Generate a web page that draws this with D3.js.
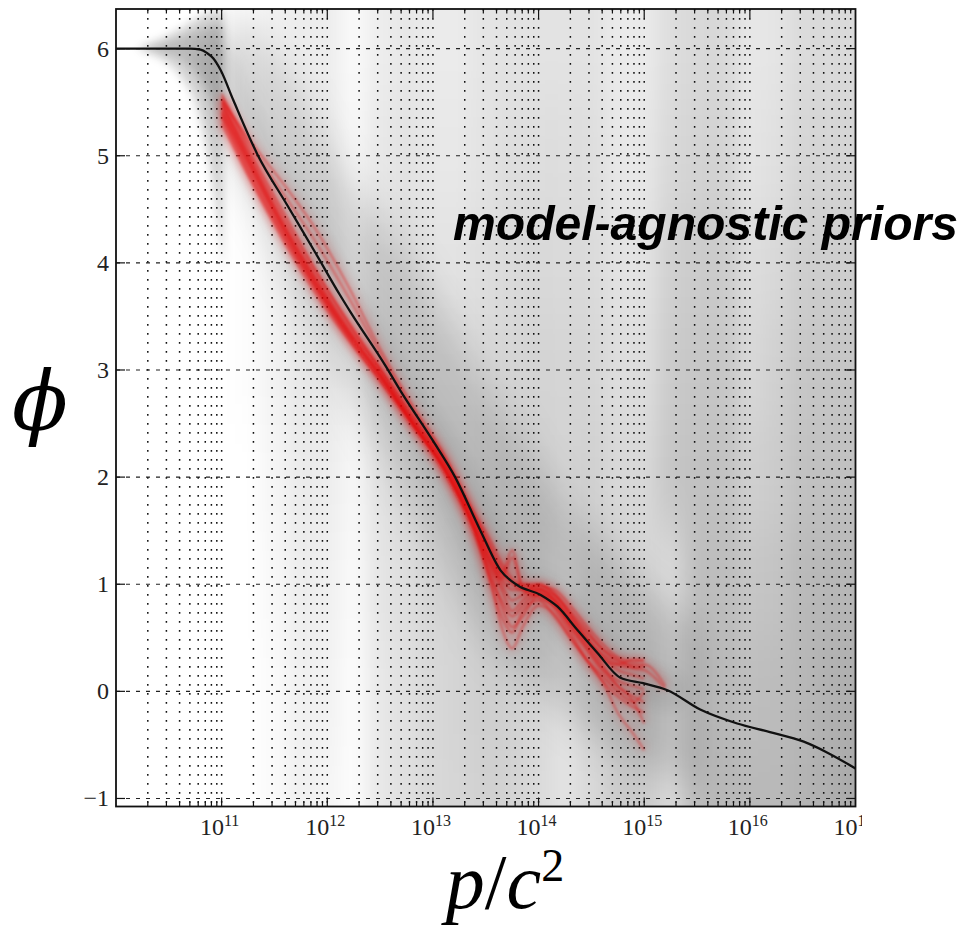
<!DOCTYPE html>
<html><head><meta charset="utf-8">
<script src="https://cdn.jsdelivr.net/npm/d3@7"></script>
<style>body{margin:0;background:#fff}svg{display:block}</style>
</head><body>
<svg id="chart" width="969" height="928"></svg>
<script>
// ---------------- data ----------------
const xMajorExp = [11, 12, 13, 14, 15, 16, 17];
const yTicks = [-1, 0, 1, 2, 3, 4, 5, 6];
const yTickLabels = ["\u22121", "0", "1", "2", "3", "4", "5", "6"];

// median (black) curve: log10(p/c^2), phi
const medianLogP = [10.0, 10.70, 10.80, 10.86, 10.92, 10.99, 11.11, 11.34, 11.62, 11.89, 12.12, 12.22, 12.55, 12.69, 13.0, 13.21, 13.45, 13.64, 13.80, 14.02, 14.18, 14.37, 14.56, 14.77, 14.99, 15.22, 15.53, 15.88, 16.19, 16.51, 16.73, 17.0];
const medianPhi  = [6.0, 6.0, 5.99, 5.96, 5.91, 5.80, 5.52, 5.01, 4.54, 4.09, 3.70, 3.54, 3.04, 2.81, 2.34, 2.0, 1.5, 1.13, 0.99, 0.90, 0.79, 0.57, 0.355, 0.13, 0.076, 0.01, -0.17, -0.30, -0.38, -0.47, -0.57, -0.72];

// red posterior samples on a common grid (null = not defined)
const redLogP = [11.0, 11.3, 11.6, 11.9, 12.2, 12.5, 12.8, 13.1, 13.4, 13.55, 13.65, 13.75, 13.85, 14.0, 14.15, 14.3, 14.45, 14.6, 14.75, 14.9, 15.0, 15.2];
const red1  = [5.45, 4.85, 4.30, 3.80, 3.35, 2.95, 2.52, 2.10, 1.55, 1.25, 1.05, 0.95, 0.95, 0.92, 0.85, 0.68, 0.50, 0.33, 0.20, 0.15, 0.12, null];
const red2  = [5.58, 4.98, 4.45, 3.92, 3.44, 3.00, 2.55, 2.15, 1.60, 1.30, 1.10, 1.32, 1.00, 1.00, 0.90, 0.72, 0.55, 0.40, 0.28, 0.25, 0.25, 0.05];
const red3  = [5.35, 4.75, 4.22, 3.74, 3.30, 2.90, 2.50, 2.05, 1.45, 1.00, 0.70, 0.55, 0.75, 0.85, 0.70, 0.50, 0.30, 0.10, -0.05, -0.15, -0.20, null];
const red4  = [5.55, 5.05, 4.62, 4.18, 3.68, 3.15, 2.64, 2.20, 1.65, 1.40, 1.20, 1.05, 1.00, 0.98, 0.95, 0.80, 0.62, 0.45, 0.32, 0.28, 0.30, null];
const red5  = [5.30, 4.72, 4.18, 3.70, 3.28, 2.90, 2.48, 2.08, 1.50, 1.15, 0.95, 0.75, 0.85, 0.95, 0.85, 0.60, 0.40, 0.20, 0.05, -0.10, -0.30, null];
const red6  = [5.50, 4.90, 4.35, 3.85, 3.40, 3.00, 2.56, 2.15, 1.58, 1.20, 1.05, 1.25, 0.95, 0.88, 0.80, 0.65, 0.45, 0.25, 0.05, -0.05, -0.10, null];
const red7  = [5.42, 4.86, 4.30, 3.80, 3.36, 2.96, 2.52, 2.10, 1.50, 1.10, 0.80, 0.60, 0.70, 0.90, 0.78, 0.55, 0.30, 0.10, -0.20, -0.40, -0.55, null];
const red8  = [5.52, 5.10, 4.72, 4.30, 3.78, 3.20, 2.68, 2.22, 1.60, 1.30, 1.10, 1.00, 0.95, 0.95, 0.90, 0.75, 0.58, 0.40, 0.30, 0.22, 0.20, 0.02];
const red9  = [5.40, 4.82, 4.27, 3.77, 3.33, 2.94, 2.50, 2.10, 1.52, 1.20, 1.00, 0.85, 0.90, 1.00, 0.92, 0.72, 0.50, 0.30, 0.25, 0.30, 0.28, null];
const red10 = [5.48, 4.90, 4.33, 3.83, 3.37, 2.96, 2.52, 2.10, 1.50, 1.00, 0.60, 0.40, 0.60, 0.80, 0.72, 0.50, 0.30, 0.15, 0.00, -0.10, 0.00, null];
const red11 = [5.38, 4.78, 4.24, 3.76, 3.32, 2.93, 2.51, 2.08, 1.48, 1.05, 0.85, 0.70, 0.80, 0.92, 0.82, 0.62, 0.42, 0.22, 0.10, 0.05, 0.02, null];
const red12 = [5.52, 4.94, 4.40, 3.90, 3.45, 3.02, 2.58, 2.16, 1.62, 1.35, 1.15, 1.02, 0.98, 0.96, 0.86, 0.66, 0.48, 0.35, 0.25, 0.22, 0.24, null];
const redCurves = [red1, red2, red3, red4, red5, red6, red7, red8, red9, red10, red11, red12];

// prior spread around the median (gray halo)
const bandLogP = [11.0, 11.3, 11.6, 12.0, 12.5, 13.0, 13.5, 14.0, 14.5, 15.0, 15.5];
const bandHi   = [6.30, 6.20, 5.80, 5.10, 4.40, 3.70, 2.90, 2.10, 1.50, 1.00, 0.60];
const bandLo   = [5.20, 4.60, 4.00, 3.20, 2.30, 1.40, 0.50, 0.00, -0.40, -0.70, -0.90];

// fan of the prior at low pressure
const fanLogP   = [10.2, 10.4, 10.6, 10.8, 10.95, 11.02];
const fanHi     = [6.00, 6.08, 6.18, 6.30, 6.35, 6.35];
const fanLo     = [6.00, 5.92, 5.75, 5.35, 4.50, 3.90];
const fanCoreHi = [6.00, 6.04, 6.10, 6.18, 6.22, 6.22];
const fanCoreLo = [6.00, 5.97, 5.90, 5.70, 5.40, 5.20];

// background prior density (darkness) on a coarse grid
const densityLogP = [10.0,10.25,10.5,10.75,11.0,11.25,11.5,11.75,12.0,12.25,12.5,12.75,13.0,13.25,13.5,13.75,14.0,14.25,14.5,14.75,15.0,15.25,15.5,15.75,16.0,16.25,16.5,16.75,17.0];
const densityPhi = [6, 5, 4, 3, 2, 1, 0, -1];
const densityRows = [
  [0,0,0,0,0,.02,.05,.07,.07,.02,.07,.09,.08,.08,.10,.11,.11,.11,.11,.08,.08,.13,.15,.15,.09,.10,.14,.14,.14],
  [0,0,0,0,0,.02,.05,.08,.08,.03,.09,.11,.09,.09,.11,.13,.13,.13,.13,.09,.09,.15,.17,.17,.10,.12,.16,.16,.16],
  [0,0,0,0,0,.01,.05,.09,.09,.04,.11,.13,.11,.11,.13,.14,.15,.14,.14,.11,.11,.18,.20,.20,.13,.15,.19,.19,.19],
  [0,0,0,0,0,.01,.05,.09,.09,.05,.11,.13,.13,.13,.15,.16,.17,.16,.16,.13,.13,.20,.22,.22,.15,.18,.22,.22,.22],
  [0,0,0,0,0,0,.04,.08,.07,.03,.11,.14,.15,.15,.17,.18,.18,.17,.18,.15,.15,.22,.24,.24,.18,.20,.24,.24,.24],
  [0,0,0,0,0,0,.03,.07,.06,.02,.10,.13,.16,.17,.19,.19,.17,.13,.18,.18,.16,.14,.25,.26,.22,.23,.27,.28,.28],
  [0,0,0,0,0,0,.02,.06,.05,.01,.09,.12,.15,.17,.19,.18,.15,.11,.16,.20,.20,.14,.26,.27,.25,.26,.28,.30,.31],
  [0,0,0,0,0,0,.02,.06,.04,.01,.09,.12,.15,.16,.18,.17,.14,.11,.15,.20,.20,.14,.26,.28,.27,.27,.29,.31,.33]
];

// ---------------- chart ----------------
const W = 969, H = 928;
const margin = {top: 9, right: 113.5, bottom: 121.5, left: 116};
const iw = W - margin.left - margin.right, ih = H - margin.top - margin.bottom;
const svg = d3.select("#chart");
const x = d3.scaleLog().domain([1e10, 1e17]).range([0, iw]);
const y = d3.scaleLinear().domain([-1.075, 6.37]).range([ih, 0]);
const X = lp => x(Math.pow(10, lp));

const defs = svg.append("defs");
defs.append("clipPath").attr("id", "plotClip").append("rect").attr("width", iw).attr("height", ih);
defs.append("clipPath").attr("id", "figClip").append("rect").attr("x", 0).attr("y", 0).attr("width", 862).attr("height", H);
function blur(id, sx, sy) {
  defs.append("filter").attr("id", id).attr("filterUnits", "userSpaceOnUse")
    .attr("x", -200).attr("y", -200).attr("width", W + 400).attr("height", H + 400)
    .append("feGaussianBlur").attr("stdDeviation", sx + " " + sy);
}
blur("bgBlur", 9, 30);
blur("bandBlur", 18, 18);
blur("fanBlur", 4, 4);
blur("haloBlur", 8, 8);
blur("redGlow", 4, 4);
blur("redSoft", 0.8, 0.8);

const g = svg.append("g").attr("transform", `translate(${margin.left},${margin.top})`);
const plot = g.append("g").attr("clip-path", "url(#plotClip)");

// background density cells
const bg = plot.append("g").attr("filter", "url(#bgBlur)");
const half = 0.125;
densityRows.forEach((row, r) => {
  const phi = densityPhi[r];
  row.forEach((v, c) => {
    const lp = densityLogP[c];
    const lpa = c === 0 ? lp - 1 : lp - half;
    const lpb = c === row.length - 1 ? lp + 1 : lp + half;
    const ya = r === 0 ? phi + 1.5 : phi + 0.5;
    const yb = r === densityRows.length - 1 ? phi - 1.5 : phi - 0.5;
    bg.append("rect")
      .attr("x", X(lpa)).attr("width", X(lpb) - X(lpa) + 0.5)
      .attr("y", y(ya)).attr("height", y(yb) - y(ya) + 0.5)
      .attr("fill", "#000").attr("fill-opacity", v);
  });
});

// prior halo band
const bandData = bandLogP.map((lp, i) => ({lp, hi: bandHi[i], lo: bandLo[i]}));
const area = d3.area().x(d => X(d.lp)).y0(d => y(d.lo)).y1(d => y(d.hi)).curve(d3.curveMonotoneX);
plot.append("path").datum(bandData).attr("d", area).attr("fill", "#000").attr("fill-opacity", 0.14).attr("filter", "url(#bandBlur)");

// fan
const fanData = fanLogP.map((lp, i) => ({lp, hi: fanHi[i], lo: fanLo[i]}));
const fanCore = fanLogP.map((lp, i) => ({lp, hi: fanCoreHi[i], lo: fanCoreLo[i]}));
plot.append("path").datum(fanData).attr("d", area).attr("fill", "#000").attr("fill-opacity", 0.16).attr("filter", "url(#fanBlur)");
plot.append("path").datum(fanCore).attr("d", area).attr("fill", "#000").attr("fill-opacity", 0.12).attr("filter", "url(#fanBlur)");

// halo close to the median
const medData = medianLogP.map((lp, i) => ({lp, phi: medianPhi[i]}));
const line = d3.line().x(d => X(d.lp)).y(d => y(d.phi)).curve(d3.curveMonotoneX);
plot.append("path").datum(medData.filter(d => d.lp > 10.9 && d.lp < 15.3)).attr("d", line)
  .attr("fill", "none").attr("stroke", "#000").attr("stroke-opacity", 0.07).attr("stroke-width", 40)
  .attr("stroke-linecap", "round").attr("filter", "url(#haloBlur)");

// grid
const gridG = plot.append("g");
const minorVals = [];
for (let e = 10; e < 17; e++) for (let m = 1; m <= 9; m++) {
  const v = m * Math.pow(10, e);
  if (v > 1e10 && v < 1e17) minorVals.push(v);
}
gridG.selectAll("line.vg").data(minorVals).join("line").attr("class", "vg")
  .attr("x1", d => x(d)).attr("x2", d => x(d)).attr("y1", 0).attr("y2", ih)
  .attr("stroke", "#111").attr("stroke-width", 1.5).attr("stroke-dasharray", "1.8,7.2");
gridG.selectAll("line.hg").data(yTicks).join("line").attr("class", "hg")
  .attr("x1", 0).attr("x2", iw).attr("y1", d => y(d)).attr("y2", d => y(d))
  .attr("stroke", "#222").attr("stroke-width", 1.1).attr("stroke-dasharray", "4,6");

// red samples
const redLine = d3.line().defined(d => d.phi !== null).x(d => X(d.lp)).y(d => y(d.phi)).curve(d3.curveMonotoneX);
const redData = redCurves.map(c => c.map((phi, i) => ({lp: redLogP[i], phi})));
const glow = plot.append("g").attr("filter", "url(#redGlow)");
glow.selectAll("path").data(redData).join("path").attr("d", redLine)
  .attr("fill", "none").attr("stroke", "rgb(235,20,20)").attr("stroke-opacity", 0.12).attr("stroke-width", 9);
const reds = plot.append("g").attr("filter", "url(#redSoft)");
reds.selectAll("path").data(redData).join("path").attr("d", redLine)
  .attr("fill", "none").attr("stroke", "rgb(228,0,0)").attr("stroke-opacity", 0.32).attr("stroke-width", 2.4);

// median
plot.append("path").datum(medData).attr("d", line)
  .attr("fill", "none").attr("stroke", "#111").attr("stroke-width", 2.3);

// axes frame and ticks
const axG = g.append("g");
const majorVals = xMajorExp.map(e => Math.pow(10, e)).filter(v => v < 1e17);
const minorOnly = minorVals.filter(v => !majorVals.includes(v));
const tickAttr = (sel) => sel.attr("stroke", "#111").attr("stroke-width", 1.2);
tickAttr(axG.selectAll("line.bmin").data(minorOnly).join("line").attr("class", "bmin")
  .attr("x1", d => x(d)).attr("x2", d => x(d)).attr("y1", ih).attr("y2", ih - 4.5));
tickAttr(axG.selectAll("line.bmaj").data(majorVals).join("line").attr("class", "bmaj")
  .attr("x1", d => x(d)).attr("x2", d => x(d)).attr("y1", ih).attr("y2", ih - 9));
tickAttr(axG.selectAll("line.tmin").data(minorOnly).join("line").attr("class", "tmin")
  .attr("x1", d => x(d)).attr("x2", d => x(d)).attr("y1", 0).attr("y2", 4.5));
tickAttr(axG.selectAll("line.tmaj").data(majorVals).join("line").attr("class", "tmaj")
  .attr("x1", d => x(d)).attr("x2", d => x(d)).attr("y1", 0).attr("y2", 9));
tickAttr(axG.selectAll("line.lt").data(yTicks).join("line").attr("class", "lt")
  .attr("x1", 0).attr("x2", 9).attr("y1", d => y(d)).attr("y2", d => y(d)));
tickAttr(axG.selectAll("line.rt").data(yTicks).join("line").attr("class", "rt")
  .attr("x1", iw).attr("x2", iw - 9).attr("y1", d => y(d)).attr("y2", d => y(d)));
axG.append("rect").attr("width", iw).attr("height", ih).attr("fill", "none")
  .attr("stroke", "#111").attr("stroke-width", 1.8);

// tick labels
const serif = "'Liberation Serif', 'DejaVu Serif', serif";
axG.selectAll("text.yl").data(yTicks).join("text").attr("class", "yl")
  .attr("x", -7).attr("y", d => y(d)).attr("dy", "0.33em").attr("text-anchor", "end")
  .attr("font-family", serif).attr("font-size", 24).attr("fill", "#222")
  .text((d, i) => yTickLabels[i]);

const xl = svg.append("g").attr("clip-path", "url(#figClip)")
  .append("g").attr("transform", `translate(${margin.left},${margin.top})`);
const xlab = xl.selectAll("text.xl").data(xMajorExp).join("text").attr("class", "xl")
  .attr("x", d => x(Math.pow(10, d)) - 2).attr("y", ih + 28).attr("text-anchor", "middle")
  .attr("font-family", serif).attr("font-size", 24).attr("fill", "#222");
xlab.append("tspan").text("10");
xlab.append("tspan").attr("font-size", 16).attr("dy", -9).text(d => d);

// axis titles
svg.append("text").attr("x", 40).attr("y", 430).attr("text-anchor", "middle")
  .attr("font-family", "'DejaVu Serif', serif").attr("font-style", "italic").attr("font-size", 82).attr("fill", "#000")
  .text("\u03D5");
const xt = svg.append("text").attr("x", 505).attr("y", 908).attr("text-anchor", "middle")
  .attr("font-family", serif).attr("font-style", "italic").attr("font-size", 78).attr("fill", "#000");
xt.append("tspan").text("p");
xt.append("tspan").attr("font-style", "normal").text("/");
xt.append("tspan").text("c");
xt.append("tspan").attr("font-style", "normal").attr("font-size", 46).attr("dy", -27).text("2");

// annotation
svg.append("text").attr("x", 453).attr("y", 240)
  .attr("font-family", "'Liberation Sans', Arial, sans-serif").attr("font-weight", "bold").attr("font-style", "italic")
  .attr("font-size", 48).attr("textLength", 505).attr("lengthAdjust", "spacingAndGlyphs")
  .attr("fill", "#000").text("model-agnostic priors");
</script>
</body></html>
